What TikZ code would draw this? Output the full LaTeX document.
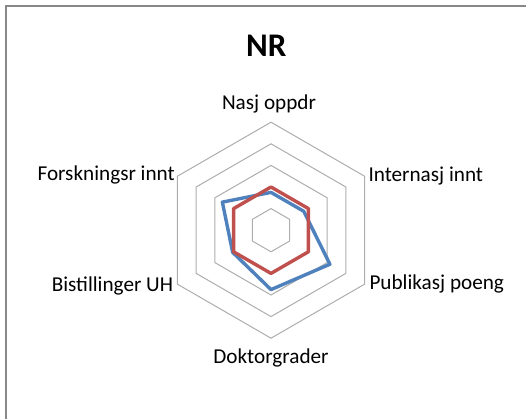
\documentclass[tikz,border=0pt]{standalone}
\usepackage{fontspec}
\setmainfont{Carlito}
\definecolor{serblue}{HTML}{4F81BD}
\definecolor{serred}{HTML}{C0504D}
\definecolor{gridgray}{HTML}{ADADAD}
\definecolor{framegray}{HTML}{888888}
\begin{document}
\begin{tikzpicture}[x=1pt,y=1pt,
  gridline/.style={draw=gridgray,line width=1pt},
  series/.style={line width=3.4pt,line join=round},
  axislabel/.style={inner sep=0pt,font=\fontsize{21.2}{25}\selectfont,text=black},
  titlelabel/.style={inner sep=0pt,font=\fontsize{33}{40}\selectfont\bfseries,text=black}]
\useasboundingbox (0,0) rectangle (526,419);
% chart frame (left and top edges visible)
\draw[framegray,line width=2pt] (5.8,-2) -- (5.8,412.5) -- (530,412.5);
% title
\node[titlelabel,anchor=base] (title) at (266.3,362.3) {NR};
\begin{scope}[shift={(271,188.8)}]
  \foreach \k in {1,...,5}{
    \draw[gridline] (90:\k*21.6) -- (30:\k*21.6) -- (-30:\k*21.6) -- (-90:\k*21.6) -- (210:\k*21.6) -- (150:\k*21.6) -- cycle;
  }
  \draw[series,serblue] (90:37.8) -- (30:37.8) -- (-30:68.04) -- (-90:59.4) -- (210:44.28) -- (150:56.16) -- cycle;
  \draw[series,serred] (90:43.2) -- (30:43.2) -- (-30:43.2) -- (-90:43.2) -- (210:43.2) -- (150:43.2) -- cycle;
\end{scope}
\node[axislabel,anchor=base] (nasj) at (269,309) {Nasj oppdr};
\node[axislabel,anchor=base west] (internasj) at (368.3,237.3) {Internasj innt};
\node[axislabel,anchor=base west] (publ) at (369.3,129) {Publikasj poeng};
\node[axislabel,anchor=base] (dokt) at (271,55.7) {Doktorgrader};
\node[axislabel,anchor=base east] (bist) at (173.3,127.3) {Bistillinger UH};
\node[axislabel,anchor=base east] (forsk) at (175,238.3) {Forskningsr innt};
\end{tikzpicture}
\end{document}
